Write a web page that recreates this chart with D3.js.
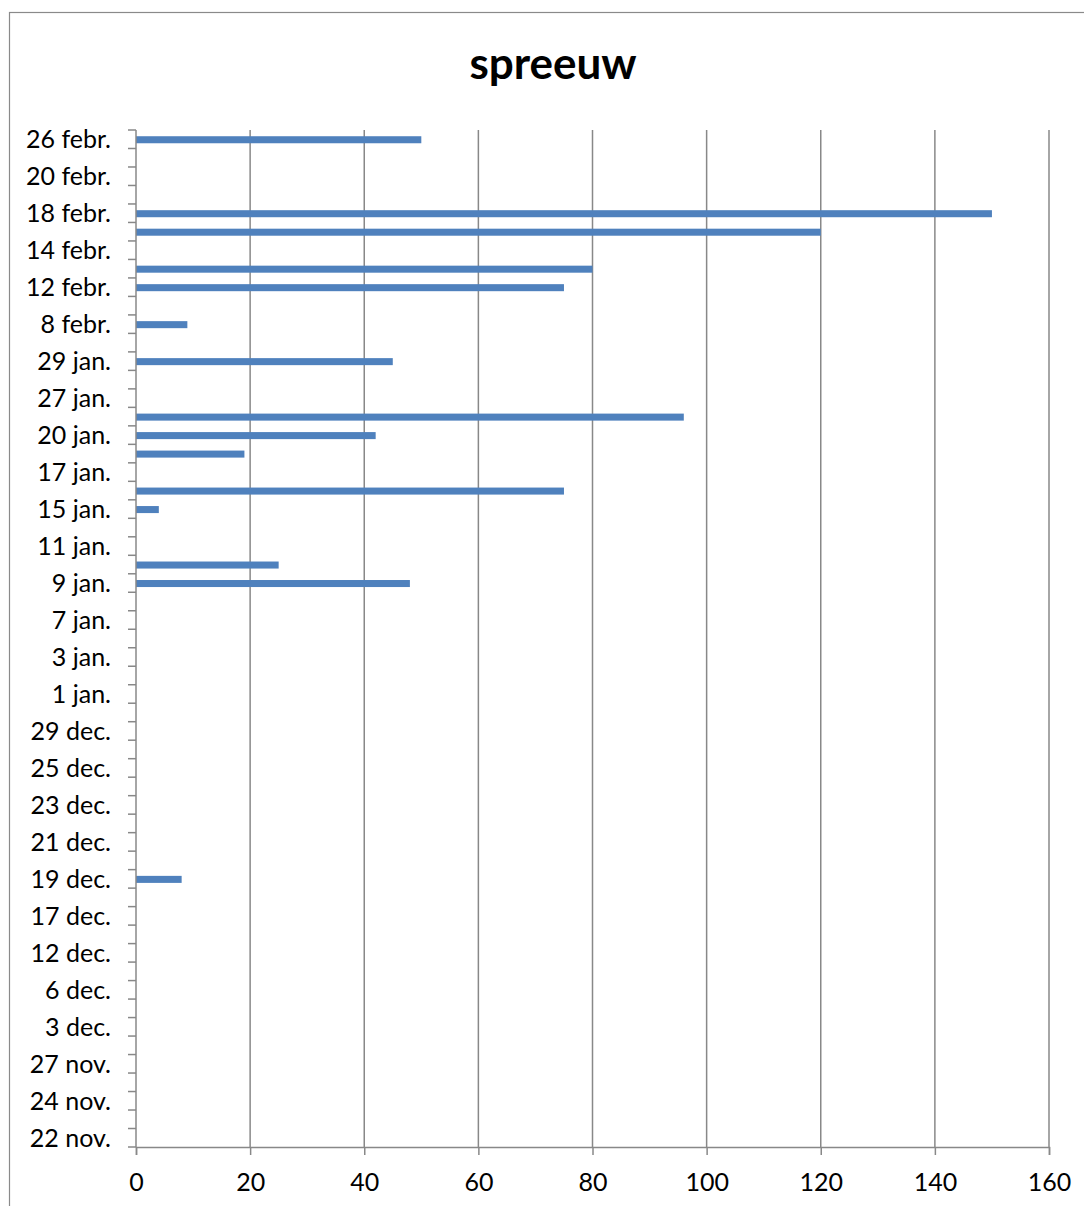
<!DOCTYPE html>
<html>
<head>
<meta charset="utf-8">
<script src="https://cdn.jsdelivr.net/npm/d3@7"></script>
<style>
  html, body { margin: 0; padding: 0; background: #fff; }
  svg { display: block; }
</style>
</head>
<body>
<svg id="chart" width="1084" height="1206"></svg>
<script>
// Categories listed top to bottom (as shown in the chart)
const categories = [
  "26 febr.", "21 febr.", "20 febr.", "19 febr.", "18 febr.", "16 febr.", "14 febr.", "13 febr.",
  "12 febr.", "10 febr.", "8 febr.", "1 febr.", "29 jan.", "28 jan.", "27 jan.", "22 jan.",
  "20 jan.", "18 jan.", "17 jan.", "16 jan.", "15 jan.", "13 jan.", "11 jan.", "10 jan.",
  "9 jan.", "8 jan.", "7 jan.", "5 jan.", "3 jan.", "2 jan.", "1 jan.", "31 dec.",
  "29 dec.", "27 dec.", "25 dec.", "24 dec.", "23 dec.", "22 dec.", "21 dec.", "20 dec.",
  "19 dec.", "18 dec.", "17 dec.", "14 dec.", "12 dec.", "9 dec.", "6 dec.", "4 dec.",
  "3 dec.", "30 nov.", "27 nov.", "26 nov.", "24 nov.", "23 nov.", "22 nov."
];
const values = [
  50, null, null, null, 150, 120, null, 80,
  75, null, 9, null, 45, null, null, 96,
  42, 19, null, 75, 4, null, null, 25,
  48, null, null, null, null, null, null, null,
  null, null, null, null, null, null, null, null,
  8, null, null, null, null, null, null, null,
  null, null, null, null, null, null, null
];
const xTicks = [0, 20, 40, 60, 80, 100, 120, 140, 160];
const title = "spreeuw";

const svg = d3.select("#chart");
const W = 1084, H = 1206;
const plot = { left: 136, right: 1049, top: 130, bottom: 1147 };
const gridColor = "#888888";
const font = "Lato, 'Open Sans', sans-serif";

// chart border
svg.append("rect").attr("x", 9.5).attr("y", 12.5)
  .attr("width", W + 10).attr("height", H + 10)
  .attr("fill", "none").attr("stroke", "#8a8a8a").attr("stroke-width", 1.2);

// title
svg.append("text").attr("x", 553).attr("y", 79)
  .attr("text-anchor", "middle")
  .attr("font-family", font).attr("font-weight", "bold").attr("font-size", 44)
  .attr("fill", "#000").text(title);

const x = d3.scaleLinear().domain([0, 160]).range([plot.left, plot.right]);
const y = d3.scaleBand().domain(categories).range([plot.top, plot.bottom])
  .paddingInner(0.62).paddingOuter(0.31);

// vertical gridlines
svg.append("g").selectAll("line").data(xTicks.filter(d => d > 0)).join("line")
  .attr("x1", d => x(d)).attr("x2", d => x(d))
  .attr("y1", plot.top).attr("y2", plot.bottom)
  .attr("stroke", gridColor).attr("stroke-width", 1.5);

// bars
svg.append("g").selectAll("rect")
  .data(categories.map((c, i) => ({ c, v: values[i] })).filter(d => d.v != null))
  .join("rect")
  .attr("x", x(0)).attr("y", d => y(d.c) + 0.5)
  .attr("width", d => x(d.v) - x(0))
  .attr("height", y.bandwidth())
  .attr("fill", "#4F81BD");

// x axis
const xAxis = d3.axisBottom(x).tickValues(xTicks).tickSize(8).tickPadding(18);
const gx = svg.append("g").attr("transform", `translate(0,${plot.bottom})`).call(xAxis);
gx.select(".domain").attr("stroke", gridColor).attr("stroke-width", 1.5);
gx.selectAll(".tick line").attr("stroke", gridColor).attr("stroke-width", 1.5);
gx.selectAll(".tick text").attr("font-family", font).attr("font-size", 25).attr("fill", "#000");

// y axis: tick marks at category boundaries, labels every other category from bottom
const n = categories.length;
const boundaries = d3.range(n + 1).map(i => plot.top + i * (plot.bottom - plot.top) / n);
const gy = svg.append("g");
gy.append("line").attr("x1", plot.left).attr("x2", plot.left)
  .attr("y1", plot.top).attr("y2", plot.bottom)
  .attr("stroke", gridColor).attr("stroke-width", 1.5);
gy.selectAll("line.tk").data(boundaries).join("line").attr("class", "tk")
  .attr("x1", plot.left - 8).attr("x2", plot.left)
  .attr("y1", d => d).attr("y2", d => d)
  .attr("stroke", gridColor).attr("stroke-width", 1.5);
gy.selectAll("text").data(categories.filter((c, i) => (n - 1 - i) % 2 === 0)).join("text")
  .attr("x", 111).attr("y", d => y(d) + y.bandwidth() / 2)
  .attr("dy", "0.36em")
  .attr("text-anchor", "end")
  .attr("font-family", font).attr("font-size", 25).attr("fill", "#000")
  .text(d => d);
</script>
</body>
</html>
